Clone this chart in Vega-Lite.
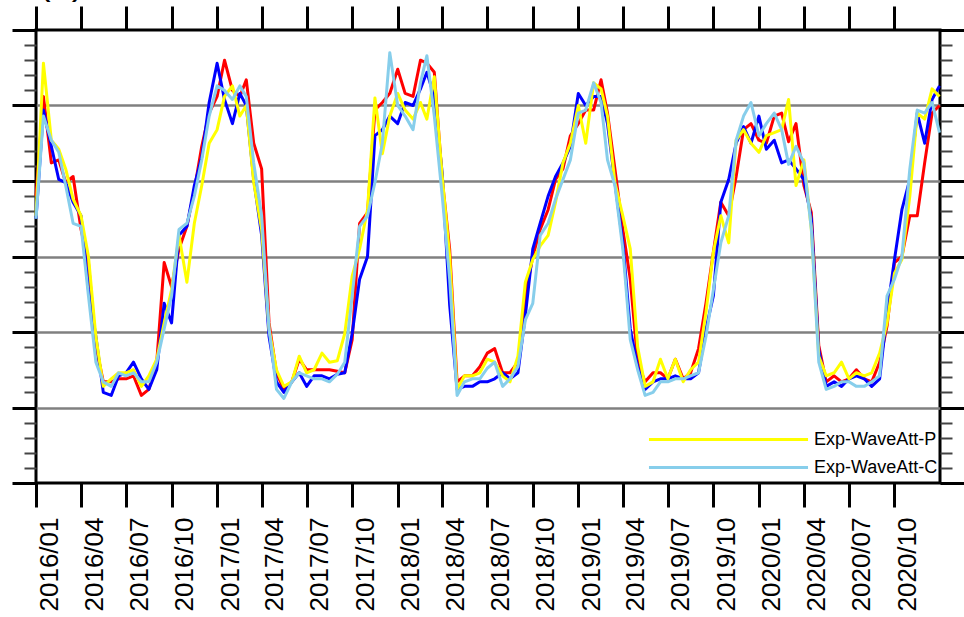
{
  "$schema": "https://vega.github.io/schema/vega-lite/v6.json",
  "width": 904,
  "height": 453,
  "autosize": {"type": "none"},
  "padding": {"left": 36, "top": 30, "right": 24, "bottom": 134},
  "background": "white",
  "title": {"text": "(a)", "anchor": "start", "frame": "group", "offset": 8, "baseline": "alphabetic", "fontSize": 38, "font": "Liberation Sans", "fontWeight": "normal", "color": "black", "dx": 2, "dy": 35},
  "config": {
    "font": "Liberation Sans",
    "view": {"stroke": "black", "strokeWidth": 3}
  },
  "data": {"values": [
    {"d":"2016-01-01","ctrl":19.0,"obs":17.5,"p":17.7,"c":17.5},
    {"d":"2016-01-16","ctrl":25.6,"obs":24.7,"p":27.8,"c":24.3},
    {"d":"2016-02-01","ctrl":21.2,"obs":22.3,"p":22.7,"c":22.7},
    {"d":"2016-02-16","ctrl":21.4,"obs":20.1,"p":22.1,"c":21.9},
    {"d":"2016-03-01","ctrl":19.9,"obs":19.9,"p":20.8,"c":19.7},
    {"d":"2016-03-16","ctrl":20.3,"obs":18.6,"p":18.8,"c":17.2},
    {"d":"2016-04-01","ctrl":16.8,"obs":17.7,"p":17.7,"c":17.0},
    {"d":"2016-04-16","ctrl":14.6,"obs":12.8,"p":15.0,"c":12.4},
    {"d":"2016-05-01","ctrl":9.1,"obs":9.7,"p":9.7,"c":8.0},
    {"d":"2016-05-16","ctrl":6.7,"obs":6.0,"p":6.4,"c":6.7},
    {"d":"2016-06-01","ctrl":6.7,"obs":5.8,"p":6.9,"c":6.4},
    {"d":"2016-06-16","ctrl":6.9,"obs":7.1,"p":7.3,"c":7.3},
    {"d":"2016-07-01","ctrl":6.9,"obs":7.3,"p":7.3,"c":7.1},
    {"d":"2016-07-16","ctrl":7.1,"obs":8.0,"p":7.5,"c":7.3},
    {"d":"2016-08-01","ctrl":5.8,"obs":6.9,"p":6.4,"c":6.7},
    {"d":"2016-08-16","ctrl":6.2,"obs":6.2,"p":7.1,"c":6.7},
    {"d":"2016-09-01","ctrl":8.0,"obs":7.5,"p":8.2,"c":8.0},
    {"d":"2016-09-16","ctrl":14.6,"obs":11.9,"p":10.6,"c":10.2},
    {"d":"2016-10-01","ctrl":13.0,"obs":10.6,"p":12.8,"c":12.4},
    {"d":"2016-10-16","ctrl":15.5,"obs":16.4,"p":16.4,"c":16.8},
    {"d":"2016-11-01","ctrl":17.0,"obs":17.0,"p":13.3,"c":17.2},
    {"d":"2016-11-16","ctrl":19.4,"obs":19.7,"p":17.2,"c":19.0},
    {"d":"2016-12-01","ctrl":22.3,"obs":21.6,"p":19.7,"c":21.4},
    {"d":"2016-12-16","ctrl":24.5,"obs":25.2,"p":22.5,"c":24.3},
    {"d":"2017-01-01","ctrl":25.6,"obs":27.8,"p":23.4,"c":26.3},
    {"d":"2017-01-16","ctrl":28.0,"obs":25.4,"p":25.6,"c":26.0},
    {"d":"2017-02-01","ctrl":26.0,"obs":23.8,"p":26.3,"c":25.4},
    {"d":"2017-02-16","ctrl":25.6,"obs":25.8,"p":24.3,"c":26.3},
    {"d":"2017-03-01","ctrl":26.7,"obs":25.0,"p":25.0,"c":25.6},
    {"d":"2017-03-16","ctrl":22.5,"obs":20.1,"p":19.9,"c":21.2},
    {"d":"2017-04-01","ctrl":20.8,"obs":16.4,"p":16.8,"c":17.7},
    {"d":"2017-04-16","ctrl":10.6,"obs":9.7,"p":10.2,"c":10.2},
    {"d":"2017-05-01","ctrl":7.3,"obs":6.7,"p":7.5,"c":6.2},
    {"d":"2017-05-16","ctrl":6.2,"obs":6.0,"p":6.4,"c":5.6},
    {"d":"2017-06-01","ctrl":6.7,"obs":6.7,"p":6.7,"c":6.7},
    {"d":"2017-06-16","ctrl":8.2,"obs":7.3,"p":8.4,"c":7.3},
    {"d":"2017-07-01","ctrl":7.5,"obs":6.4,"p":7.3,"c":7.1},
    {"d":"2017-07-16","ctrl":7.5,"obs":7.1,"p":7.5,"c":6.9},
    {"d":"2017-08-01","ctrl":7.5,"obs":7.1,"p":8.6,"c":6.9},
    {"d":"2017-08-16","ctrl":7.5,"obs":6.9,"p":8.0,"c":6.7},
    {"d":"2017-09-01","ctrl":7.4,"obs":7.2,"p":8.1,"c":7.2},
    {"d":"2017-09-16","ctrl":7.3,"obs":7.3,"p":9.9,"c":8.0},
    {"d":"2017-10-01","ctrl":9.5,"obs":9.9,"p":13.7,"c":12.4},
    {"d":"2017-10-16","ctrl":17.2,"obs":13.5,"p":15.5,"c":17.0},
    {"d":"2017-11-01","ctrl":17.9,"obs":15.0,"p":18.1,"c":17.7},
    {"d":"2017-11-16","ctrl":24.7,"obs":23.0,"p":25.5,"c":19.9},
    {"d":"2017-12-01","ctrl":25.2,"obs":23.4,"p":21.8,"c":22.5},
    {"d":"2017-12-16","ctrl":25.8,"obs":24.3,"p":24.3,"c":28.5},
    {"d":"2018-01-01","ctrl":27.4,"obs":23.8,"p":25.8,"c":25.0},
    {"d":"2018-01-16","ctrl":25.8,"obs":25.2,"p":24.7,"c":24.3},
    {"d":"2018-02-01","ctrl":25.6,"obs":25.0,"p":24.1,"c":23.4},
    {"d":"2018-02-16","ctrl":28.0,"obs":26.1,"p":25.2,"c":26.5},
    {"d":"2018-03-01","ctrl":27.8,"obs":27.2,"p":24.1,"c":28.3},
    {"d":"2018-03-16","ctrl":27.2,"obs":25.6,"p":26.9,"c":24.3},
    {"d":"2018-04-01","ctrl":20.1,"obs":20.5,"p":20.3,"c":19.0},
    {"d":"2018-04-16","ctrl":15.5,"obs":11.8,"p":15.0,"c":13.5},
    {"d":"2018-05-01","ctrl":6.7,"obs":6.2,"p":6.2,"c":5.8},
    {"d":"2018-05-16","ctrl":7.1,"obs":6.4,"p":7.1,"c":6.7},
    {"d":"2018-06-01","ctrl":7.1,"obs":6.4,"p":7.1,"c":6.9},
    {"d":"2018-06-16","ctrl":7.7,"obs":6.7,"p":7.3,"c":6.9},
    {"d":"2018-07-01","ctrl":8.6,"obs":6.7,"p":8.2,"c":7.6},
    {"d":"2018-07-16","ctrl":8.9,"obs":6.9,"p":8.0,"c":8.0},
    {"d":"2018-08-01","ctrl":7.3,"obs":7.3,"p":7.1,"c":6.4},
    {"d":"2018-08-16","ctrl":7.3,"obs":6.9,"p":6.7,"c":6.9},
    {"d":"2018-09-01","ctrl":8.0,"obs":7.3,"p":8.4,"c":7.7},
    {"d":"2018-09-16","ctrl":12.4,"obs":11.1,"p":13.3,"c":10.8},
    {"d":"2018-10-01","ctrl":15.0,"obs":15.5,"p":14.8,"c":11.9},
    {"d":"2018-10-16","ctrl":16.8,"obs":17.2,"p":15.7,"c":16.4},
    {"d":"2018-11-01","ctrl":18.1,"obs":19.0,"p":16.4,"c":17.2},
    {"d":"2018-11-16","ctrl":20.1,"obs":20.3,"p":18.6,"c":18.8},
    {"d":"2018-12-01","ctrl":20.8,"obs":21.2,"p":21.2,"c":20.1},
    {"d":"2018-12-16","ctrl":23.0,"obs":22.3,"p":22.5,"c":21.4},
    {"d":"2019-01-01","ctrl":23.8,"obs":25.8,"p":25.0,"c":24.5},
    {"d":"2019-01-16","ctrl":24.7,"obs":25.0,"p":22.5,"c":24.7},
    {"d":"2019-02-01","ctrl":24.7,"obs":25.6,"p":26.5,"c":26.5},
    {"d":"2019-02-16","ctrl":26.7,"obs":25.6,"p":26.1,"c":25.2},
    {"d":"2019-03-01","ctrl":24.5,"obs":23.8,"p":24.3,"c":21.4},
    {"d":"2019-03-16","ctrl":20.8,"obs":19.9,"p":19.9,"c":19.7},
    {"d":"2019-04-01","ctrl":16.8,"obs":15.9,"p":17.7,"c":15.5},
    {"d":"2019-04-16","ctrl":13.5,"obs":10.2,"p":15.5,"c":9.5},
    {"d":"2019-05-01","ctrl":8.0,"obs":7.7,"p":9.0,"c":7.5},
    {"d":"2019-05-16","ctrl":6.7,"obs":6.2,"p":6.4,"c":5.8},
    {"d":"2019-06-01","ctrl":7.3,"obs":6.7,"p":6.7,"c":6.0},
    {"d":"2019-06-16","ctrl":7.3,"obs":6.9,"p":8.2,"c":6.7},
    {"d":"2019-07-01","ctrl":6.9,"obs":6.9,"p":6.9,"c":6.7},
    {"d":"2019-07-16","ctrl":8.2,"obs":7.1,"p":8.2,"c":6.9},
    {"d":"2019-08-01","ctrl":6.9,"obs":6.9,"p":6.7,"c":6.9},
    {"d":"2019-08-16","ctrl":7.3,"obs":6.9,"p":7.5,"c":7.1},
    {"d":"2019-09-01","ctrl":8.9,"obs":7.3,"p":8.0,"c":7.3},
    {"d":"2019-09-16","ctrl":11.9,"obs":10.2,"p":11.3,"c":9.7},
    {"d":"2019-10-01","ctrl":15.3,"obs":12.4,"p":15.3,"c":12.8},
    {"d":"2019-10-16","ctrl":18.6,"obs":18.6,"p":17.7,"c":15.9},
    {"d":"2019-11-01","ctrl":17.7,"obs":20.1,"p":15.9,"c":17.7},
    {"d":"2019-11-16","ctrl":20.3,"obs":22.5,"p":22.7,"c":22.7},
    {"d":"2019-12-01","ctrl":23.4,"obs":23.6,"p":23.4,"c":24.3},
    {"d":"2019-12-16","ctrl":23.8,"obs":22.5,"p":22.5,"c":25.2},
    {"d":"2020-01-01","ctrl":22.7,"obs":24.3,"p":21.9,"c":23.0},
    {"d":"2020-01-16","ctrl":22.5,"obs":22.1,"p":23.0,"c":23.8},
    {"d":"2020-02-01","ctrl":24.3,"obs":22.7,"p":23.2,"c":24.5},
    {"d":"2020-02-16","ctrl":24.5,"obs":21.2,"p":23.4,"c":23.4},
    {"d":"2020-03-01","ctrl":22.6,"obs":21.4,"p":25.4,"c":21.1},
    {"d":"2020-03-16","ctrl":23.8,"obs":20.8,"p":19.7,"c":22.3},
    {"d":"2020-04-01","ctrl":19.7,"obs":20.1,"p":21.4,"c":21.2},
    {"d":"2020-04-16","ctrl":17.9,"obs":17.5,"p":16.8,"c":16.8},
    {"d":"2020-05-01","ctrl":9.1,"obs":8.8,"p":8.4,"c":8.0},
    {"d":"2020-05-16","ctrl":6.7,"obs":6.4,"p":7.1,"c":6.2},
    {"d":"2020-06-01","ctrl":7.1,"obs":6.7,"p":7.3,"c":6.4},
    {"d":"2020-06-16","ctrl":6.7,"obs":6.4,"p":8.0,"c":6.7},
    {"d":"2020-07-01","ctrl":6.9,"obs":6.9,"p":6.9,"c":6.7},
    {"d":"2020-07-16","ctrl":7.5,"obs":7.1,"p":7.3,"c":6.4},
    {"d":"2020-08-01","ctrl":6.9,"obs":6.9,"p":7.1,"c":6.4},
    {"d":"2020-08-16","ctrl":6.7,"obs":6.4,"p":7.3,"c":6.7},
    {"d":"2020-09-01","ctrl":8.0,"obs":6.9,"p":8.6,"c":7.1},
    {"d":"2020-09-16","ctrl":10.4,"obs":11.3,"p":10.6,"c":12.4},
    {"d":"2020-10-01","ctrl":14.6,"obs":14.8,"p":13.9,"c":13.5},
    {"d":"2020-10-16","ctrl":15.0,"obs":18.1,"p":14.8,"c":15.0},
    {"d":"2020-11-01","ctrl":17.7,"obs":20.1,"p":19.0,"c":20.8},
    {"d":"2020-11-16","ctrl":17.7,"obs":24.5,"p":24.5,"c":24.7},
    {"d":"2020-12-01","ctrl":21.2,"obs":22.5,"p":24.1,"c":24.5},
    {"d":"2020-12-16","ctrl":24.5,"obs":25.4,"p":26.1,"c":25.2},
    {"d":"2020-12-31","ctrl":25.0,"obs":26.3,"p":25.6,"c":23.2}
  ]},
  "layer": [
    {
      "mark": {"type": "line", "strokeWidth": 3, "strokeJoin": "round"},
      "encoding": {
        "x": {"field": "d", "type": "temporal",
          "scale": {"type": "utc", "domain": [1451606400000, 1609459199000]},
          "axis": {"orient": "bottom", "tickCount": {"interval": "month", "step": 3}, "format": "%Y/%m", "labelAngle": 270, "labelAlign": "right", "labelBaseline": "top", "labelFontSize": 26, "labelColor": "black", "labelPadding": 10, "labelFlush": false, "labelOverlap": false, "labelBound": false, "tickSize": 24, "tickWidth": 3, "tickColor": "black", "domain": false, "grid": false, "title": null}},
        "y": {"field": "ctrl", "type": "quantitative",
          "scale": {"domain": [0, 30], "nice": false, "zero": false},
          "axis": {"orient": "left", "values": [0, 5, 10, 15, 20, 25, 30], "labels": false, "tickSize": 24, "tickWidth": 3, "tickColor": "black", "domain": false, "grid": true, "gridColor": "#808080", "gridWidth": 2.5, "gridOpacity": {"condition": {"test": "datum.value <= 0 || datum.value >= 30", "value": 0}, "value": 1}, "title": null}},
        "color": {"datum": "Exp-Ctrl", "type": "nominal",
          "scale": {"domain": ["Exp-Ctrl", "OBS", "Exp-WaveAtt-P", "Exp-WaveAtt-C"], "range": ["#ff0000", "#0000ff", "#ffff00", "#87ceeb"]},
          "legend": {"values": ["Exp-WaveAtt-P", "Exp-WaveAtt-C"], "orient": "none", "legendX": 683, "legendY": 400, "title": null, "symbolType": "M-10,0H10", "symbolSize": 253, "symbolStrokeWidth": 3, "labelFontSize": 18, "labelColor": "black", "labelOffset": 76, "rowPadding": 9, "padding": 0, "labelFont": "Liberation Sans"}}
      }
    },
    {
      "mark": {"type": "line", "strokeWidth": 3, "strokeJoin": "round"},
      "encoding": {
        "x": {"field": "d", "type": "temporal",
          "scale": {"type": "utc", "domain": [1451606400000, 1609459199000]},
          "axis": {"orient": "top", "tickCount": {"interval": "month", "step": 3}, "labels": false, "tickSize": 24, "tickWidth": 3, "tickColor": "black", "domain": false, "grid": false, "title": null}},
        "y": {"field": "obs", "type": "quantitative",
          "scale": {"domain": [0, 30], "nice": false, "zero": false},
          "axis": {"orient": "right", "values": [0, 5, 10, 15, 20, 25, 30], "labels": false, "tickSize": 24, "tickWidth": 3, "tickColor": "black", "domain": false, "grid": false, "title": null}},
        "color": {"datum": "OBS", "type": "nominal"}
      }
    },
    {
      "mark": {"type": "line", "strokeWidth": 3, "strokeJoin": "round"},
      "encoding": {
        "x": {"field": "d", "type": "temporal", "scale": {"type": "utc", "domain": [1451606400000, 1609459199000]}, "axis": null},
        "y": {"field": "p", "type": "quantitative",
          "scale": {"domain": [0, 30], "nice": false, "zero": false},
          "axis": {"orient": "left", "values": [1, 2, 3, 4, 6, 7, 8, 9, 11, 12, 13, 14, 16, 17, 18, 19, 21, 22, 23, 24, 26, 27, 28, 29], "labels": false, "tickSize": 12, "tickWidth": 2, "tickColor": "#444444", "domain": false, "grid": false, "title": null}},
        "color": {"datum": "Exp-WaveAtt-P", "type": "nominal"}
      }
    },
    {
      "mark": {"type": "line", "strokeWidth": 3, "strokeJoin": "round"},
      "encoding": {
        "x": {"field": "d", "type": "temporal", "scale": {"type": "utc", "domain": [1451606400000, 1609459199000]}, "axis": null},
        "y": {"field": "c", "type": "quantitative",
          "scale": {"domain": [0, 30], "nice": false, "zero": false},
          "axis": {"orient": "right", "values": [1, 2, 3, 4, 6, 7, 8, 9, 11, 12, 13, 14, 16, 17, 18, 19, 21, 22, 23, 24, 26, 27, 28, 29], "labels": false, "tickSize": 12, "tickWidth": 2, "tickColor": "#444444", "domain": false, "grid": false, "title": null}},
        "color": {"datum": "Exp-WaveAtt-C", "type": "nominal"}
      }
    }
  ],
  "resolve": {"axis": {"x": "independent", "y": "independent"}}
}
